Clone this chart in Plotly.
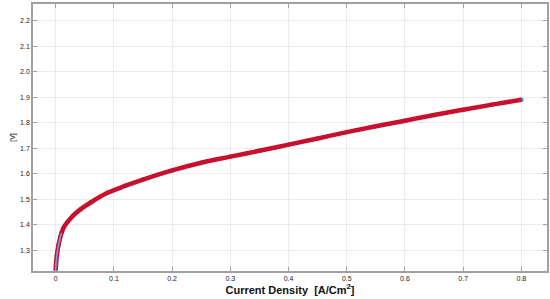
import plotly.graph_objects as go

# polarization curve
current_density = [0, 0.001, 0.002, 0.003, 0.005, 0.008, 0.01, 0.014, 0.02, 0.03, 0.043,
                   0.06, 0.089, 0.12, 0.15, 0.2, 0.25, 0.3, 0.35, 0.4, 0.45,
                   0.5, 0.55, 0.6, 0.65, 0.7, 0.75, 0.8]
voltage = [1.222, 1.26, 1.28, 1.297, 1.322, 1.352, 1.368, 1.39, 1.41, 1.436, 1.461,
           1.487, 1.525, 1.553, 1.577, 1.613, 1.643, 1.667, 1.69, 1.714, 1.738,
           1.763, 1.786, 1.808, 1.83, 1.851, 1.871, 1.89]

x_ticks = [0, 0.1, 0.2, 0.3, 0.4, 0.5, 0.6, 0.7, 0.8]
x_labels = ["0", "0.1", "0.2", "0.3", "0.4", "0.5", "0.6", "0.7", "0.8"]
y_ticks = [1.3, 1.4, 1.5, 1.6, 1.7, 1.8, 1.9, 2.0, 2.1, 2.2]
y_labels = ["1.3", "1.4", "1.5", "1.6", "1.7", "1.8", "1.9", "2.0", "2.1", "2.2"]

fig = go.Figure()
fig.add_trace(go.Scatter(x=current_density, y=voltage, mode="markers",
                         marker=dict(color="#3d8fd6", size=4.5), showlegend=False))
fig.add_trace(go.Scatter(x=current_density, y=voltage, mode="lines",
                         line=dict(color="#c8102e", width=4.5, shape="spline"),
                         showlegend=False))
# the dense blue data points show through on the steep start of the curve
fig.add_trace(go.Scatter(x=current_density[:7], y=voltage[:7], mode="lines",
                         line=dict(color="#6fa8dc", width=1.5, shape="spline"),
                         showlegend=False))

axis_common = dict(showline=True, linecolor="#a0a0a0", linewidth=1.5, mirror="ticks",
                   ticks="inside", ticklen=4, tickcolor="#a0a0a0", automargin=False,
                   showgrid=True, gridcolor="#ececec", gridwidth=1, zeroline=False,
                   tickfont=dict(family="Arial", size=7, color="#222222"))

fig.update_layout(
    width=550, height=299,
    margin=dict(l=33, r=3, t=4, b=28, autoexpand=False),
    paper_bgcolor="white", plot_bgcolor="white",
    xaxis=dict(range=[-0.039, 0.844], tickvals=x_ticks, ticktext=x_labels,
               title=dict(text="<b>Current Density  [A/Cm<sup>2</sup>]</b>", standoff=2,
                          font=dict(family="Arial", size=11, color="#111111")),
               **axis_common),
    yaxis=dict(range=[1.2185, 2.2655], tickvals=y_ticks, ticktext=y_labels,
               title=dict(text="[V]", standoff=4,
                          font=dict(family="Arial", size=7, color="#111111")),
               **axis_common),
)

# the page body has an 8px default margin; drop it so the figure sits at the corner
fig.write_html("out.html", config={"displayModeBar": False},
               post_script="document.body.style.margin='0px';")
